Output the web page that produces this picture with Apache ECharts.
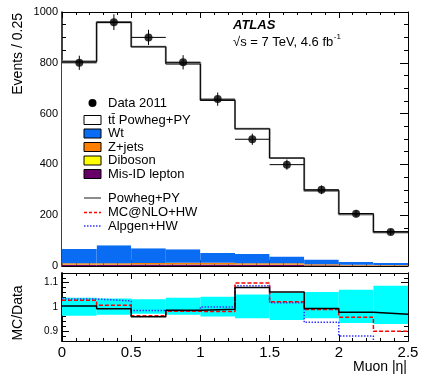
<html>
<head>
<meta charset="UTF-8">
<script src="https://cdnjs.cloudflare.com/ajax/libs/echarts/6.0.0/echarts.min.js"></script>
</head>
<body style="margin:0">
<div id="chart" style="width:425px;height:391px"></div>
<script>
// bins in muon |eta|
var binEdges = [0, 0.25, 0.5, 0.75, 1, 1.25, 1.5, 1.75, 2, 2.25, 2.5];
var binCenters = [0.125, 0.375, 0.625, 0.875, 1.125, 1.375, 1.625, 1.875, 2.125, 2.375];

// main panel
var data2011 = [800, 960, 900, 802, 657, 499, 399, 300, 206, 134];
var dataErr = [28, 31, 30, 28, 26, 22, 20, 17, 14, 12];
var ttbar = [737, 876, 793, 729, 601, 493, 388, 273, 190, 123];
var wt = [56, 71, 58, 53, 38, 36, 26, 19.5, 11.5, 8.5];
var zjets = [5, 5, 5, 6, 6, 5, 5, 3, 2, 1];
var diboson = [1, 1, 1, 1, 1, 1, 1, 0.5, 0.5, 0.5];
var misid = [5, 5, 6, 6, 6, 5, 5, 3, 2, 2];
var powhegPY = [806, 961, 863, 800, 654, 540, 425, 295, 203, 132];

// ratio panel
var ratioPowheg = [1.004, 0.993, 0.960, 0.987, 0.991, 1.080, 1.062, 0.994, 0.978, 0.970];
var ratioMCNLO = [1.028, 1.007, 0.964, 0.982, 0.981, 1.099, 1.022, 0.990, 0.958, 0.900];
var ratioAlpgen = [1.033, 1.025, 0.986, 0.984, 1.000, 1.088, 1.017, 0.937, 0.881, 0.840];
var bandHi = [1.038, 1.035, 1.032, 1.038, 1.042, 1.051, 1.059, 1.062, 1.071, 1.088];
var bandLo = [0.964, 0.968, 0.972, 0.968, 0.961, 0.954, 0.946, 0.954, 0.934, 0.930];

var xTicks = [0, 0.5, 1, 1.5, 2, 2.5];
var ratioMajor = [0.9, 1, 1.1];
var ratioMinor = [0.86, 0.88, 0.92, 0.94, 0.96, 0.98, 1.02, 1.04, 1.06, 1.08, 1.12, 1.14];

var FONT = 'Liberation Sans, Arial, sans-serif';
var chart = echarts.init(document.getElementById('chart'));

function stepPts(vals) {
  var pts = vals.map(function (v, i) { return [binEdges[i], v]; });
  pts.push([binEdges[vals.length], vals[vals.length - 1]]);
  return pts;
}

function rectItem(params, api) {
  var p0 = api.coord([api.value(0), api.value(3)]);
  var p1 = api.coord([api.value(1), api.value(2)]);
  return {
    type: 'rect',
    shape: {x: p0[0], y: p0[1], width: p1[0] - p0[0], height: p1[1] - p0[1]},
    style: {fill: api.visual('color')}
  };
}

function errItem(params, api) {
  var c = api.value(0), v = api.value(1), e = api.value(2);
  var a = api.coord([c, v - e]), b = api.coord([c, v + e]);
  var l = api.coord([api.value(3), v]), r = api.coord([api.value(4), v]);
  return {type: 'group', children: [
    {type: 'line', shape: {x1: a[0], y1: a[1], x2: b[0], y2: b[1]}, style: {stroke: '#000', lineWidth: 1}},
    {type: 'line', shape: {x1: l[0], y1: l[1], x2: r[0], y2: r[1]}, style: {stroke: '#000', lineWidth: 1}}
  ]};
}

// stacked backgrounds, bottom to top
var layers = [
  {name: 'Mis-ID lepton', vals: misid, color: '#660066'},
  {name: 'Diboson', vals: diboson, color: '#ffff00'},
  {name: 'Z+jets', vals: zjets, color: '#ff8000'},
  {name: 'Wt', vals: wt, color: '#0a6cf2'},
  {name: 'ttbar', vals: ttbar, color: '#ffffff'}
];
var base = [0, 0, 0, 0, 0, 0, 0, 0, 0, 0];
var series = [];
layers.forEach(function (ly) {
  var d = ly.vals.map(function (v, i) {
    var r = [binEdges[i], binEdges[i + 1], base[i], base[i] + v];
    base[i] += v;
    return r;
  });
  series.push({
    type: 'custom', name: ly.name, xAxisIndex: 0, yAxisIndex: 0,
    renderItem: rectItem, itemStyle: {color: ly.color}, data: d, z: 1, silent: true
  });
});
var totalMC = base.slice();

series.push({
  type: 'line', name: 'Powheg+PY', xAxisIndex: 0, yAxisIndex: 0, step: 'end', symbol: 'none',
  data: stepPts(powhegPY), lineStyle: {color: '#8c8c8c', width: 2}, z: 2
});
series.push({
  type: 'line', name: 'stack', xAxisIndex: 0, yAxisIndex: 0, step: 'end', symbol: 'none',
  data: stepPts(totalMC), lineStyle: {color: '#000', width: 1}, z: 3
});
series.push({
  type: 'custom', name: 'err', xAxisIndex: 0, yAxisIndex: 0, renderItem: errItem, z: 4,
  data: data2011.map(function (v, i) { return [binCenters[i], v, dataErr[i], binEdges[i], binEdges[i + 1]]; })
});
series.push({
  type: 'scatter', name: 'Data 2011', xAxisIndex: 0, yAxisIndex: 0, symbolSize: 8, z: 5,
  itemStyle: {color: '#000'},
  data: data2011.map(function (v, i) { return [binCenters[i], v]; })
});

// ratio panel
series.push({
  type: 'custom', name: 'band', xAxisIndex: 2, yAxisIndex: 4, renderItem: rectItem, z: 1,
  itemStyle: {color: '#00ffff'},
  data: bandLo.map(function (v, i) { return [binEdges[i], binEdges[i + 1], v, bandHi[i]]; })
});
series.push({
  type: 'line', name: 'Alpgen+HW', xAxisIndex: 2, yAxisIndex: 4, step: 'end', symbol: 'none', z: 2,
  data: stepPts(ratioAlpgen), lineStyle: {color: '#3333ff', width: 1.5, type: [1.5, 1.5]}
});
series.push({
  type: 'line', name: 'MC@NLO+HW', xAxisIndex: 2, yAxisIndex: 4, step: 'end', symbol: 'none', z: 3,
  data: stepPts(ratioMCNLO), lineStyle: {color: '#ff0000', width: 1.5, type: [4, 2]}
});
series.push({
  type: 'line', name: 'Powheg ratio', xAxisIndex: 2, yAxisIndex: 4, step: 'end', symbol: 'none', z: 4,
  data: stepPts(ratioPowheg), lineStyle: {color: '#000', width: 1.5}
});

function xAx(grid, pos, labels) {
  return {
    type: 'value', gridIndex: grid, position: pos, min: 0, max: 2.5, interval: 0.5,
    axisLine: {onZero: false, lineStyle: {color: '#000', width: 1}},
    axisTick: {inside: true, length: 6, lineStyle: {color: '#000'}},
    minorTick: {show: true, splitNumber: 5, length: 3, lineStyle: {color: '#000'}},
    axisLabel: labels ? {show: true, fontSize: 15, margin: 4, color: '#000', fontFamily: FONT,
      formatter: function (v) { return xTicks.indexOf(v) >= 0 ? String(v) : ''; }} : {show: false},
    splitLine: {show: false}
  };
}

function ratioAx(pos, vals, len, labels) {
  return {
    type: 'value', gridIndex: 1, position: pos, min: 0.86, max: 1.14,
    axisLine: {show: true, onZero: false, lineStyle: {color: '#000', width: pos === 'left' ? 1.5 : 1}},
    axisTick: {inside: true, length: len, customValues: vals, lineStyle: {color: '#000'}},
    axisLabel: labels ? {show: true, fontSize: 10, margin: 4, color: '#000', fontFamily: FONT,
      customValues: vals, formatter: function (v) { return String(Math.round(v * 10) / 10); }} : {show: false, customValues: vals},
    splitLine: {show: false}
  };
}

var mctx = document.createElement('canvas').getContext('2d');
mctx.font = '13px Liberation Sans';
var cmLabel = '\u221as = 7 TeV, 4.6 fb';
var cmW = mctx.measureText(cmLabel).width;

var txt = {fill: '#000', fontSize: 13, fontFamily: FONT, verticalAlign: 'middle'};
function t(x, y, s, extra) {
  return {type: 'text', x: x, y: y, style: Object.assign({}, txt, {text: s}, extra || {}), z: 10};
}
function box(y, color) {
  return {type: 'rect', shape: {x: 84, y: y - 4.5, width: 17, height: 9},
    style: {fill: color, stroke: '#000', lineWidth: 1}, z: 10};
}
function lline(y, color, w, dash) {
  return {type: 'line', shape: {x1: 84, y1: y, x2: 101, y2: y},
    style: {stroke: color, lineWidth: w, lineDash: dash}, z: 10};
}

var graphic = [
  {type: 'circle', shape: {cx: 92.5, cy: 103, r: 4}, style: {fill: '#000'}, z: 10},
  t(108, 103, 'Data 2011'),
  box(120, '#ffffff'), t(108, 120, 't\u0074\u0304 Powheg+PY'),
  box(133.5, '#0a6cf2'), t(108, 133.5, 'Wt'),
  box(147, '#ff8000'), t(108, 147, 'Z+jets'),
  box(160.5, '#ffff00'), t(108, 160.5, 'Diboson'),
  box(174, '#660066'), t(108, 174, 'Mis-ID lepton'),
  lline(198, '#8c8c8c', 2, null), t(108, 198, 'Powheg+PY'),
  lline(212.5, '#ff0000', 1.5, [3, 2]), t(108, 212.5, 'MC@NLO+HW'),
  lline(226, '#3333ff', 1.5, [1.5, 1.5]), t(108, 226, 'Alpgen+HW'),
  t(233, 25, 'ATLAS', {fontWeight: 'bold', fontStyle: 'italic'}),
  t(233, 42, cmLabel),
  t(233 + cmW + 0.5, 37, '-1', {fontSize: 8}),
  t(18, 13, 'Events / 0.25', {fontSize: 14, align: 'right'}),
  t(407, 367, 'Muon |\u03b7|', {fontSize: 14, align: 'right'})
];
graphic[graphic.length - 2].rotation = Math.PI / 2;
var mcTitle = t(18, 313, 'MC/Data', {fontSize: 14, align: 'center'});
mcTitle.rotation = Math.PI / 2;
graphic.push(mcTitle);

var option = {
  animation: false,
  backgroundColor: '#fff',
  grid: [
    {left: 62, top: 12, width: 346, height: 254},
    {left: 62, top: 273, width: 346, height: 68}
  ],
  xAxis: [xAx(0, 'bottom', false), xAx(0, 'top', false), xAx(1, 'bottom', true), xAx(1, 'top', false)],
  yAxis: [
    {type: 'value', gridIndex: 0, position: 'left', min: 0, max: 1000, interval: 200,
      axisLine: {show: true, onZero: false, lineStyle: {color: '#000', width: 1.5}},
      axisTick: {inside: true, length: 8, lineStyle: {color: '#000'}},
      minorTick: {show: true, splitNumber: 4, length: 4, lineStyle: {color: '#000'}},
      axisLabel: {fontSize: 11, margin: 4, color: '#000', fontFamily: FONT,
        formatter: function (v) { return String(v); }},
      splitLine: {show: false}},
    {type: 'value', gridIndex: 0, position: 'right', min: 0, max: 1000, interval: 200,
      axisLine: {show: true, onZero: false, lineStyle: {color: '#000', width: 1}},
      axisTick: {inside: true, length: 8, lineStyle: {color: '#000'}},
      minorTick: {show: true, splitNumber: 4, length: 4, lineStyle: {color: '#000'}},
      axisLabel: {show: false}, splitLine: {show: false}},
    ratioAx('right', ratioMajor, 7, false),
    ratioAx('right', ratioMinor, 4, false),
    ratioAx('left', ratioMajor, 7, true),
    ratioAx('left', ratioMinor, 4, false)
  ],
  graphic: graphic,
  series: series
};
chart.setOption(option);
</script>
</body>
</html>
